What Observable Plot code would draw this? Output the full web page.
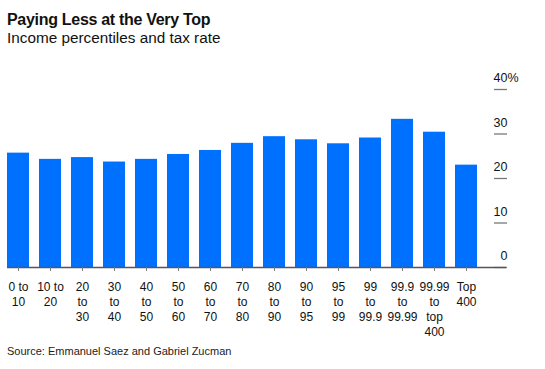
<!DOCTYPE html>
<html>
<head>
<meta charset="utf-8">
<script src="https://cdn.jsdelivr.net/npm/d3@7"></script>
<script src="https://cdn.jsdelivr.net/npm/@observablehq/plot@0.6"></script>
<style>
  html, body { margin: 0; padding: 0; background: #fff; }
  body { width: 545px; height: 369px; position: relative; font-family: "Liberation Sans", Arial, Helvetica, sans-serif; color: #111; }
  #title { position: absolute; left: 7px; top: 11.4px; font-size: 16px; line-height: 18px; font-weight: bold; letter-spacing: -0.3px; white-space: nowrap; }
  #subtitle { position: absolute; left: 7px; top: 29.3px; font-size: 15.3px; line-height: 17px; white-space: nowrap; }
  #chart { position: absolute; left: 0; top: 46px; }
  #source { position: absolute; left: 7px; top: 344.7px; font-size: 11px; line-height: 13px; white-space: nowrap; color: #222; }
</style>
</head>
<body>
<div id="title">Paying Less at the Very Top</div>
<div id="subtitle">Income percentiles and tax rate</div>
<div id="chart"></div>
<div id="source">Source: Emmanuel Saez and Gabriel Zucman</div>
<script>
const categories = [
  "0 to\n10", "10 to\n20", "20\nto\n30", "30\nto\n40", "40\nto\n50",
  "50\nto\n60", "60\nto\n70", "70\nto\n80", "80\nto\n90", "90\nto\n95",
  "95\nto\n99", "99\nto\n99.9", "99.9\nto\n99.99", "99.99\nto\ntop\n400", "Top\n400"
];
const taxRates = [25.7, 24.3, 24.7, 23.7, 24.3, 25.4, 26.3, 27.9, 29.4, 28.7, 27.8, 29.1, 33.3, 30.4, 23.0];
const yTicks = [0, 10, 20, 30, 40];
const yTickLabels = ["0", "10", "20", "30", "40"];

const data = categories.map((c, i) => ({category: c, rate: taxRates[i]}));

const chart = Plot.plot({
  width: 545,
  height: 294,
  marginLeft: 7,
  marginRight: 52,
  marginTop: 43,
  marginBottom: 73,
  style: {fontFamily: "'Liberation Sans', Arial, Helvetica, sans-serif", fontSize: "12px", color: "#111", background: "#fff", overflow: "visible"},
  x: {domain: categories, paddingInner: 0.316, paddingOuter: 0.112, align: 0, label: null},
  y: {domain: [0, 40], label: null},
  marks: [
    Plot.barY(data, {x: "category", y: "rate", fill: "#0070ff"}),
    Plot.axisY(yTicks, {anchor: "right", tickSize: 13, fill: "none", stroke: "#777", strokeWidth: 1.3, label: null}),
    Plot.ruleY([0], {stroke: "#555", strokeWidth: 1.3, insetRight: -13}),
    Plot.text(yTicks, {y: d => d, text: (d, i) => yTickLabels[i], frameAnchor: "right", textAnchor: "end", lineAnchor: "bottom", dx: 14, dy: -7.5, fontSize: 12.5, fill: "#111"}),
    Plot.text([40], {y: d => d, text: () => "%", frameAnchor: "right", textAnchor: "start", lineAnchor: "bottom", dx: 14, dy: -7.5, fontSize: 12.5, fill: "#111"}),
    Plot.axisX({anchor: "bottom", tickSize: 4, tickPadding: 8.5, stroke: "#777", fill: "#111", fontSize: 12, lineHeight: 1.25, label: null})
  ]
});
document.getElementById("chart").appendChild(chart);
</script>
</body>
</html>
